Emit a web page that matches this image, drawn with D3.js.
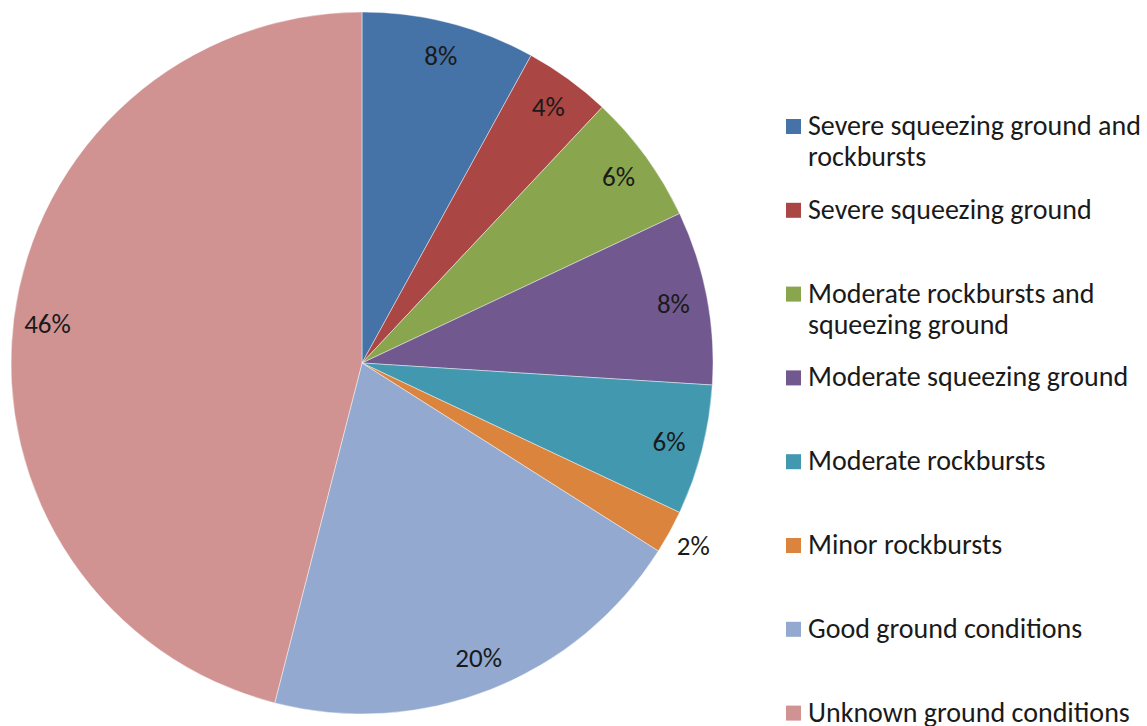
<!DOCTYPE html>
<html>
<head>
<meta charset="utf-8">
<script src="https://cdn.jsdelivr.net/npm/d3@7/dist/d3.min.js"></script>
<style>
  html, body { margin: 0; padding: 0; background: #fff; }
  svg { display: block; }
  text { font-family: Carlito, Calibri, Lato, "Liberation Sans", sans-serif; fill: #1a1a1a; }
</style>
</head>
<body>
<svg id="chart" width="1147" height="726"></svg>
<script>
// Ground condition categories along the tunnel, and their share in percent
const categories = [
  "Severe squeezing ground and rockbursts",
  "Severe squeezing ground",
  "Moderate rockbursts and squeezing ground",
  "Moderate squeezing ground",
  "Moderate rockbursts",
  "Minor rockbursts",
  "Good ground conditions",
  "Unknown ground conditions"
];
const shares = [8, 4, 6, 8, 6, 2, 20, 46];
const colors = ["#4572A7", "#AA4643", "#89A54E", "#71588F", "#4198AF", "#DB843D", "#93A9CF", "#D19392"];
// Legend entries wrapped onto lines
const legendLines = [
  ["Severe squeezing ground and", "rockbursts"],
  ["Severe squeezing ground"],
  ["Moderate rockbursts and", "squeezing ground"],
  ["Moderate squeezing ground"],
  ["Moderate rockbursts"],
  ["Minor rockbursts"],
  ["Good ground conditions"],
  ["Unknown ground conditions"]
];

const svg = d3.select("#chart");
const cx = 362, cy = 363, radius = 351;

const data = categories.map((c, i) => ({ name: c, value: shares[i], color: colors[i], lines: legendLines[i] }));

const pie = d3.pie().value(d => d.value).sort(null);
const arcs = pie(data);
const arc = d3.arc().innerRadius(0).outerRadius(radius);
const labelArc = d3.arc().innerRadius(317).outerRadius(317);
const outerLabelArc = d3.arc().innerRadius(378).outerRadius(378);

const g = svg.append("g").attr("transform", `translate(${cx},${cy})`);

g.selectAll("path.slice")
  .data(arcs)
  .join("path")
  .attr("class", "slice")
  .attr("d", arc)
  .attr("fill", d => d.data.color)
  .attr("stroke", "#ffffff")
  .attr("stroke-opacity", 0.55)
  .attr("stroke-width", 0.8);

// Percentage labels: small slices sit just outside the rim
g.selectAll("text.pct")
  .data(arcs)
  .join("text")
  .attr("class", "pct")
  .attr("transform", d => {
    const a = d.data.value < 3 ? outerLabelArc : labelArc;
    const [x, y] = a.centroid(d);
    return `translate(${x},${y})`;
  })
  .attr("text-anchor", "middle")
  .attr("dominant-baseline", "central")
  .style("font-size", "27px")
  .text(d => d.data.value + "%");

// Legend
const legendX = 786, legendY0 = 135, rowStep = 83.8, lineStep = 31;
const lg = svg.append("g").attr("class", "legend");
const rows = lg.selectAll("g.row")
  .data(data)
  .join("g")
  .attr("class", "row")
  .attr("transform", (d, i) => `translate(${legendX},${legendY0 + i * rowStep})`);

rows.append("rect")
  .attr("x", 0)
  .attr("y", -16)
  .attr("width", 15)
  .attr("height", 15)
  .attr("fill", d => d.color);

rows.append("text")
  .attr("x", 22)
  .attr("y", 0)
  .style("font-size", "28px")
  .selectAll("tspan")
  .data(d => d.lines)
  .join("tspan")
  .attr("x", 22)
  .attr("dy", (d, i) => i === 0 ? 0 : lineStep)
  .text(d => d);
</script>
</body>
</html>
